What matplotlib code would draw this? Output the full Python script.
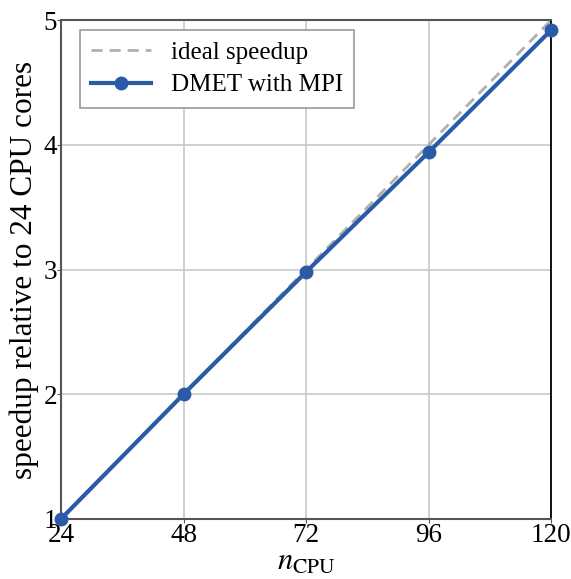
import numpy as np
import matplotlib
matplotlib.use("Agg")
import matplotlib.pyplot as plt

n_cpu = [24, 48, 72, 96, 120]
ideal_speedup = [1, 2, 3, 4, 5]
dmet_speedup = [1.0, 2.0, 2.98, 3.94, 4.92]
x_ticks = [24, 48, 72, 96, 120]
y_ticks = [1, 2, 3, 4, 5]

plt.rcParams["font.family"] = ["Liberation Serif", "DejaVu Serif"]
plt.rcParams["mathtext.fontset"] = "stix"

fig = plt.figure(figsize=(5.71, 5.79), dpi=100)
ax = fig.add_axes([0.107, 0.104, 0.858, 0.861])

ax.plot(n_cpu, ideal_speedup, linestyle="--", color="#b0b0b0", lw=2,
        dashes=(4, 2.5), label="ideal speedup", zorder=2)
ax.plot(n_cpu, dmet_speedup, marker="o", color="#2b5ba6", lw=3,
        markersize=9, label="DMET with MPI", zorder=3, clip_on=False)

ax.set_xlim(24, 120)
ax.set_ylim(1, 5)
ax.set_xticks(x_ticks)
ax.set_yticks(y_ticks)
ax.grid(True, color="#c8c8c8", lw=1.2)
ax.set_axisbelow(True)

for side in ["top", "bottom", "left"]:
    ax.spines[side].set_color("#555555")
    ax.spines[side].set_linewidth(1.5)
ax.spines["right"].set_color("black")
ax.spines["right"].set_linewidth(1.3)

ax.tick_params(labelsize=19.5, length=3, pad=0, color="#555555")
ax.set_xlabel(r"$n_{\rm CPU}$", fontsize=22, labelpad=0)
ax.set_ylabel("speedup relative to 24 CPU cores", fontsize=22.5, labelpad=3)

leg = ax.legend(loc="upper left", fontsize=18, fancybox=False,
                edgecolor="#999999", framealpha=1, handlelength=2.4,
                borderpad=0.45, labelspacing=0.4, borderaxespad=0,
                bbox_to_anchor=(0.038, 0.98))
leg.get_frame().set_linewidth(1.2)

fig.savefig("out.png", dpi=100)
